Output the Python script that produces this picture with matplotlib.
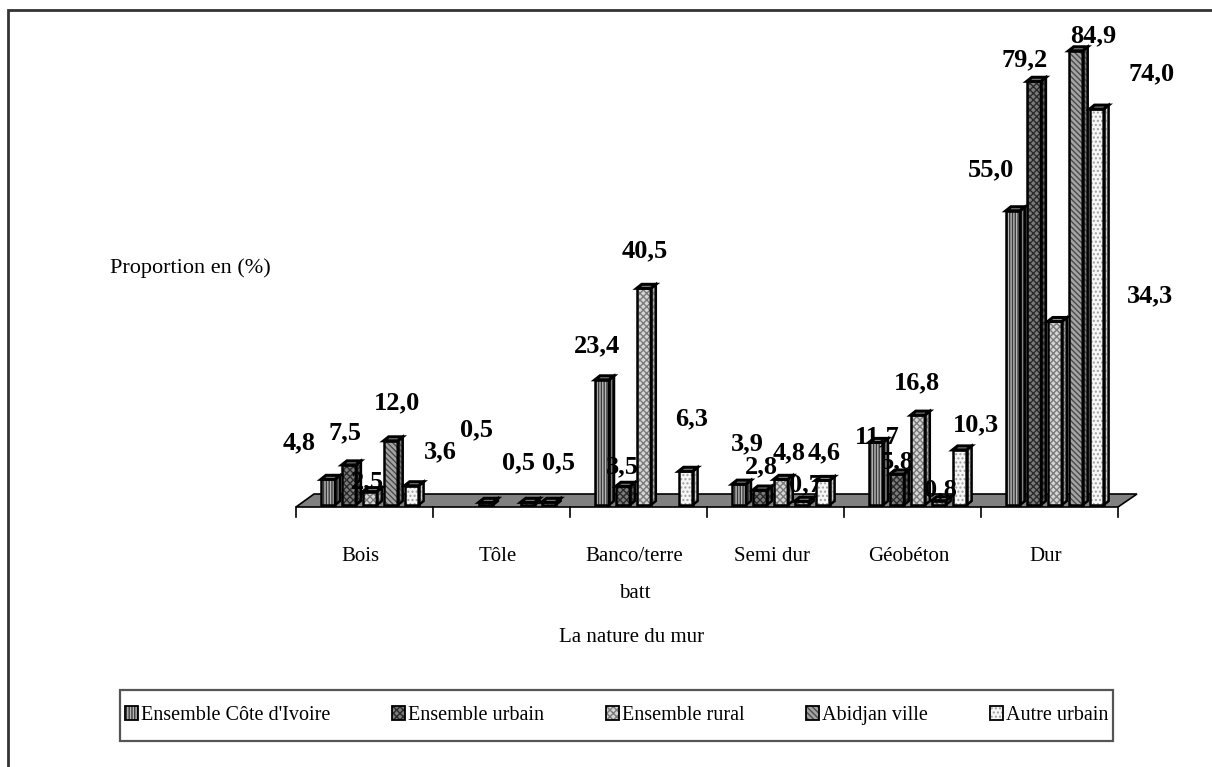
import numpy as np
import matplotlib
matplotlib.use("Agg")
import matplotlib.pyplot as plt
from matplotlib.patches import Polygon, Patch, Rectangle
from matplotlib.legend_handler import HandlerTuple

plt.rcParams['font.family'] = ['Liberation Serif', 'DejaVu Serif']
plt.rcParams['hatch.linewidth'] = 1.0

# ---------------- data ----------------
categories = ["Bois", "Tôle", "Banco/terre\n\nbatt", "Semi dur", "Géobéton", "Dur"]
series_names = ["Ensemble Côte d'Ivoire", "Ensemble urbain", "Ensemble rural",
                "Abidjan ville", "Autre urbain"]
ensemble_ci = [4.8, np.nan, 23.4, 3.9, 11.7, 55.0]
ensemble_urbain = [7.5, 0.5, 3.5, 2.8, 5.8, 79.2]
ensemble_rural = [2.5, np.nan, 40.5, 4.8, 16.8, 34.3]
abidjan_ville = [12.0, 0.5, np.nan, 0.7, 0.8, 84.9]
autre_urbain = [3.6, 0.5, 6.3, 4.6, 10.3, 74.0]
series_values = [ensemble_ci, ensemble_urbain, ensemble_rural, abidjan_ville, autre_urbain]
x_title = "La nature du mur"
y_title = "Proportion en (%)"

# ---------------- styles / positions ----------------
W, H = 1212, 767
PX_X = 137.0   # pixels per category
PX_Y = 5.35    # pixels per percent
X0_PX = 296    # pixel of first category boundary
Y0_PX = 505    # pixel row of value 0

styles = [  # face, hatch colour, hatch, side face
    ('#b8b8b8', '#3a3a3a', '||||||', '#8a8a8a'),
    ('#7c7c7c', '#2a2a2a', 'xxxxx', '#5a5a5a'),
    ('#d6d6d6', '#7a7a7a', 'xxxxx', '#aaaaaa'),
    ('#a4a4a4', '#4a4a4a', '\\\\\\\\\\\\', '#7a7a7a'),
    ('#f6f6f6', '#a0a0a0', '....', '#cfcfcf'),
]

# label offsets (pixels, screen: +x right, +y down) relative to bar top centre
label_offsets = [
    [(-29, -37), (-4, -32), (-2, -10), (6, -38), (29, -34)],
    [None, (-9, -73), None, (-9, -40), (10, -40)],
    [(-5, -34), (-1, -19), (1, -38), None, (6, -52)],
    [(8, -40), (1, -23), (8, -27), (4, -16), (2, -28)],
    [(1, -6), (0, -12), (-1, -32), (2, -11), (16, -25)],
    [(-22, -41), (-9, -21), (95, -26), (18, -15), (55, -35)],
]

fig = plt.figure(figsize=(W / 100, H / 100), dpi=100)
ax = fig.add_axes([0, 0, 1, 1])
ax.set_xlim(-X0_PX / PX_X, (W - X0_PX) / PX_X)
ax.set_ylim(-(H - Y0_PX) / PX_Y, Y0_PX / PX_Y)
ax.axis('off')

def P(x, y):
    return (x / W, 1 - y / H)

# outer frame
fig.patches.append(Rectangle(P(8, 770), (W + 10) / W, 760 / H, transform=fig.transFigure,
                             fill=False, edgecolor='#333333', linewidth=2, zorder=0))

ncat = len(categories)
dxu = lambda p: p / PX_X
dyu = lambda p: p / PX_Y

# floor
y_front = dyu(-2)
y_back = dyu(11)
floor = Polygon([(0, y_front), (ncat, y_front), (ncat + dxu(19), y_back), (dxu(18), y_back)],
                closed=True, facecolor='#808080', edgecolor='black', linewidth=1.2, zorder=1)
ax.add_patch(floor)
for k in range(ncat + 1):
    ax.plot([k, k], [y_front, y_front - dyu(10)], color='black', linewidth=1.2, zorder=1)

# bars
bw = dxu(14)
pitch = dxu(20.9)
first = dxu(25)
ddx, ddy = dxu(5), dyu(4)
x = np.arange(ncat)
for j, vals in enumerate(series_values):
    face, hcol, hatch, side = styles[j]
    vals = np.asarray(vals, dtype=float)
    left = x + first + j * pitch
    mask = ~np.isnan(vals)
    ax.bar(left[mask], vals[mask], width=bw, align='edge', color=face, edgecolor=hcol,
           linewidth=0, hatch=hatch, zorder=3)
    ax.bar(left[mask], vals[mask], width=bw, align='edge', fill=False, edgecolor='black',
           linewidth=1.8, zorder=4)
    for xl, v in zip(left[mask], vals[mask]):
        sidep = [(xl + bw, 0), (xl + bw + ddx, ddy), (xl + bw + ddx, v + ddy), (xl + bw, v)]
        ax.add_patch(Polygon(sidep, closed=True, facecolor=side, edgecolor=hcol,
                             linewidth=0, hatch=hatch, zorder=3))
        ax.add_patch(Polygon(sidep, closed=True, fill=False, edgecolor='black',
                             linewidth=1.8, zorder=4))
        topp = [(xl, v), (xl + bw, v), (xl + bw + ddx, v + ddy), (xl + ddx, v + ddy)]
        ax.add_patch(Polygon(topp, closed=True, facecolor='#909090', edgecolor='black',
                             linewidth=2.2, zorder=5))

# data labels
for i in range(ncat):
    for j, vals in enumerate(series_values):
        v = vals[i]
        off = label_offsets[i][j]
        if np.isnan(v) or off is None:
            continue
        cx = i + first + j * pitch + bw / 2
        ax.annotate(f"{v:.1f}".replace('.', ','), xy=(cx, v), xytext=(off[0], -off[1]),
                    textcoords='offset pixels', ha='center', va='center',
                    fontsize=19, fontweight='bold', zorder=10)

# category labels
for i, c in enumerate(categories):
    ax.text(i + 0.5 - dxu(4), dyu(-42), c, ha='center', va='top', fontsize=15,
            linespacing=0.95, zorder=10)

fig.text(*P(632, 638), x_title, ha='center', va='center', fontsize=15)
fig.text(*P(190, 268), y_title, ha='center', va='center', fontsize=16)

# legend (frame drawn separately)
fig.patches.append(Rectangle(P(120, 741), 993 / W, 51 / H, transform=fig.transFigure,
                             fill=False, edgecolor='#555555', linewidth=1.6, zorder=0))
handles = []
for face, hcol, hatch, side in styles:
    handles.append((Patch(facecolor=face, edgecolor=hcol, linewidth=0, hatch=hatch),
                    Patch(fill=False, edgecolor='black', linewidth=1.3)))
leg = fig.legend(handles, series_names, handler_map={tuple: HandlerTuple(ndivide=1)},
                 ncol=5, loc='center', mode='expand',
                 bbox_to_anchor=(125 / W, 1 - 741 / H, (1108 - 125) / W, 51 / H),
                 borderaxespad=0, frameon=False,
                 handlelength=0.65, handleheight=0.65, handletextpad=0.15,
                 borderpad=0, prop={'size': 14.5})

fig.savefig('out.png', dpi=100)
